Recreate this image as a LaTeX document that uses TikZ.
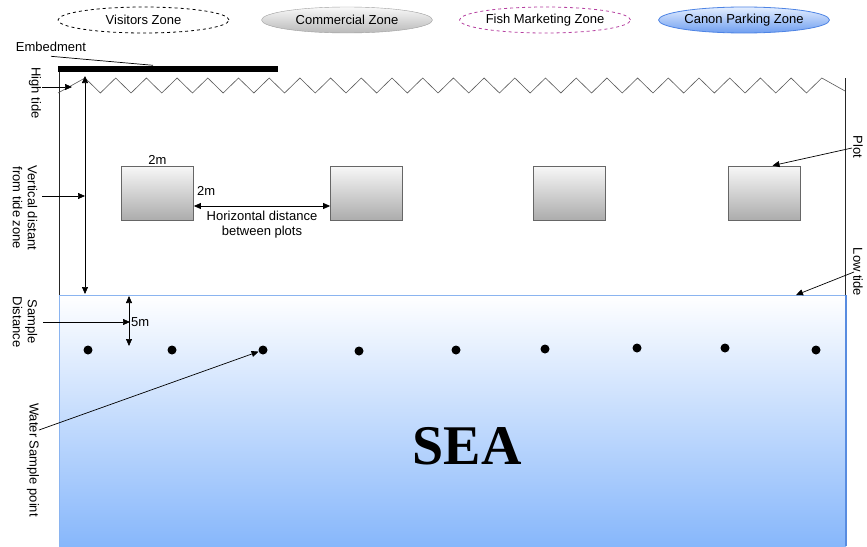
\documentclass[tikz,border=0pt]{standalone}
\usepackage{fontspec}
\setmainfont{Liberation Sans}
\newfontfamily\seafont{Liberation Serif}
\usetikzlibrary{shapes.geometric,arrows.meta}

\definecolor{seatop}{RGB}{255,255,255}
\definecolor{seamid}{RGB}{214,228,253}
\definecolor{seabot}{RGB}{135,183,251}
\definecolor{seaedge}{RGB}{138,180,240}
\definecolor{seaside}{RGB}{88,140,224}
\definecolor{fishpink}{RGB}{182,64,160}
\definecolor{parktop}{RGB}{228,238,255}
\definecolor{parkbot}{RGB}{110,158,240}
\definecolor{parkedge}{RGB}{78,132,228}

\tikzset{
  zone/.style={ellipse, minimum width=171pt, minimum height=26pt, inner sep=0pt},
  plotbox/.style={draw=gray!80!black, line width=0.8pt, top color=gray!6, bottom color=gray!65,
                  minimum width=72pt, minimum height=54pt, inner sep=0pt},
  sidelabel/.style={rotate=-90, align=center, inner sep=1pt, font=\fontsize{13}{15}\selectfont},
  pointer/.style={-{Triangle[length=7pt,width=6pt]}, line width=0.7pt},
  twoway/.style={{Triangle[length=7pt,width=6pt]}-{Triangle[length=7pt,width=6pt]}, line width=0.7pt},
  sample/.style={circle, fill=black, minimum size=9pt, inner sep=0pt},
}

\begin{document}
\begin{tikzpicture}[x=1pt, y=-1pt, font=\fontsize{13}{15}\selectfont]
\useasboundingbox (0,0) rectangle (867,546);
\fill[white] (0,0) rectangle (867,546);

% zones along the top
\node[zone, draw, dashed, line width=0.8pt] (visitors) at (143.5,20) {Visitors Zone};
\node[zone, draw=gray!75, top color=gray!5, bottom color=gray!55] (commercial) at (347,20) {Commercial Zone};
\node[zone, draw=fishpink, dashed, line width=0.8pt] (fish) at (545,20) {Fish Marketing Zone};
\node[zone, draw=parkedge, line width=0.8pt, top color=parktop, bottom color=parkbot] (parking) at (744,20) {Canon Parking Zone};

% sea body
\shade[top color=seatop, middle color=seamid, bottom color=seabot] (59,295) rectangle (846,546);
\draw[seaedge, line width=1pt] (59,546) -- (59,295) -- (846,295);
\draw[seaside, line width=2pt] (846,295) -- (846,546);
\node[font=\seafont\bfseries\fontsize{56}{60}\selectfont] (sea) at (467,446) {SEA};

% shore boundaries
\draw[black!85, line width=0.7pt] (59,70) -- (59,295);
\draw[black!85, line width=0.7pt] (845.5,78) -- (845.5,295);

% high tide line
\draw[gray!70!black, line width=0.6pt] (58,93)
  foreach \k in {0,...,23} { -- ({85+30.7*\k},78) -- ({100.35+30.7*\k},93) }
  -- (821.8,78) -- (845,91);

% embedment
\node[fill=black, minimum width=220pt, minimum height=6pt, inner sep=0pt] (bar) at (168,68.5) {};
\node (emblabel) at (51,47) {Embedment};
\draw[line width=0.7pt] ([yshift=-1pt]emblabel.south) -- ([xshift=-15pt]bar.north);

% plots
\node[plotbox] (plot1) at (157.5,193) {};
\node[plotbox] (plot2) at (366.5,193) {};
\node[plotbox] (plot3) at (569.5,193) {};
\node[plotbox] (plot4) at (764.5,193) {};
\node[anchor=south, inner sep=1pt] (topdim) at (plot1.north) {2m};
\node[anchor=west, inner sep=1pt] (sidedim) at ([xshift=2pt,yshift=2pt]plot1.east) {2m};
\draw[twoway] ([yshift=-13pt]plot1.east) -- ([yshift=-13pt]plot2.west)
  node[midway, below=1pt, align=center, font=\fontsize{13}{15.5}\selectfont] (hdist) {Horizontal distance\\between plots};

% side labels, left
\node[sidelabel] (hightide) at (35,93) {High tide};
\node[sidelabel] (vdist) at (25,208) {Vertical distant\\from tide zone};
\node[sidelabel] (sdist) at (25,322) {Sample\\Distance};
\node[sidelabel] (wsp) at (33,460) {Water Sample point};

% side labels, right
\node[sidelabel] (plotlabel) at (858,147) {Plot};
\node[sidelabel] (lowtide) at (858,272) {Low tide};

% measurement arrows
\coordinate (htstart) at (42,87);
\coordinate (htend) at (72,87);
\draw[pointer] (htstart) -- (htend);

\coordinate (vtop) at (85,76);
\coordinate (vbot) at (85,294);
\draw[twoway] (vtop) -- (vbot);
\coordinate (vmid) at (85,196);
\coordinate (vstart) at (42,196);
\draw[pointer] (vstart) -- (vmid);

\coordinate (stop) at (129,296);
\coordinate (sbot) at (129,346);
\draw[twoway] (stop) -- (sbot);
\node[anchor=west, inner sep=1pt] (fivem) at (130,322) {5m};
\coordinate (sstart) at (43,322);
\draw[pointer] (sstart) -- (fivem.west);

% water sample points
\foreach \x/\y [count=\i] in {88/350,172/350,263/350,359/351,456/350,545/349,637/348,725/348,816/350}
  \node[sample] (w\i) at (\x,\y) {};

% pointers from labels
\coordinate (wspstart) at (39,430);
\draw[pointer] (wspstart) -- (w3);
\coordinate (plotstart) at (852,148);
\draw[pointer] (plotstart) -- ([xshift=8pt]plot4.north);
\coordinate (lowstart) at (854,272);
\coordinate (lowend) at (796,295);
\draw[pointer] (lowstart) -- (lowend);
\end{tikzpicture}
\end{document}
